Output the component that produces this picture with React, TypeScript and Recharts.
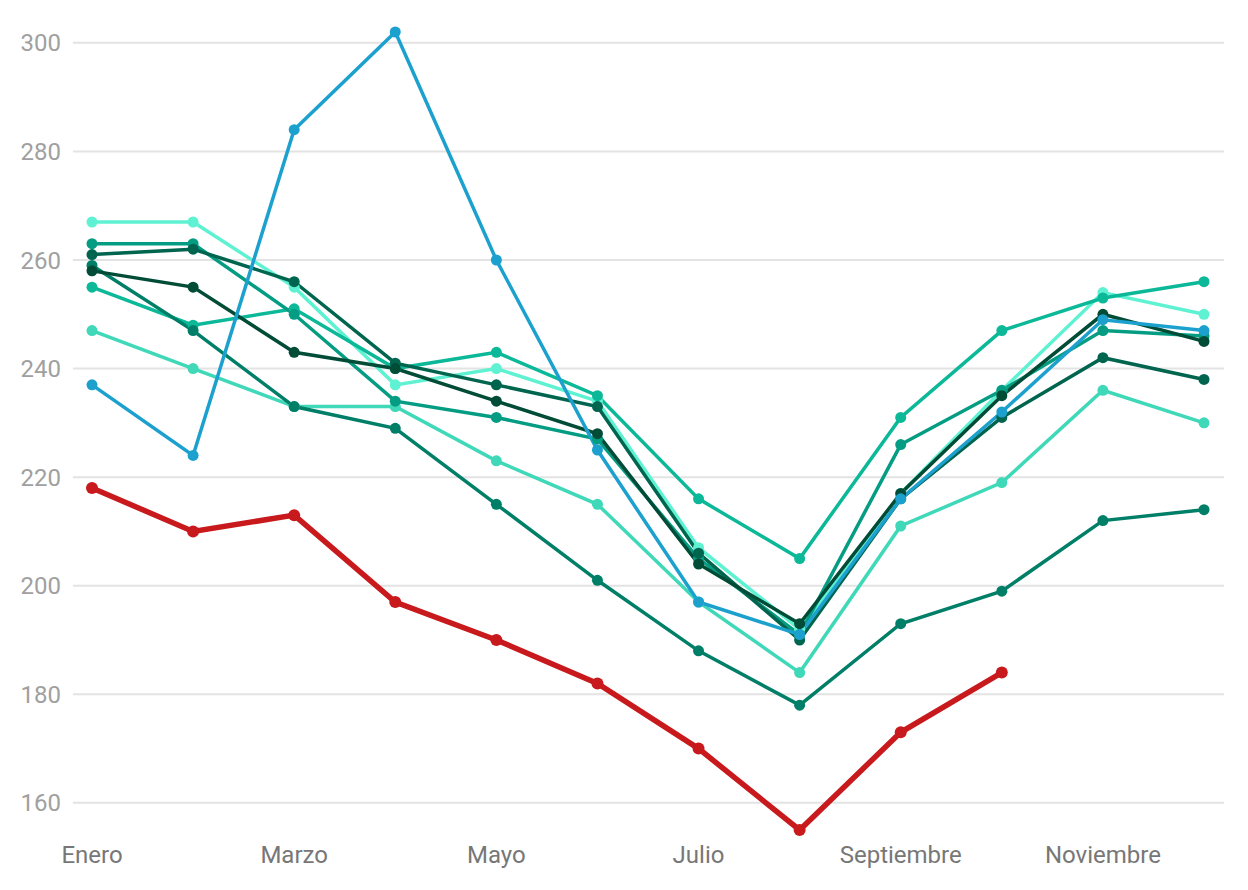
import { CartesianGrid, Line, LineChart, XAxis, YAxis } from "recharts";

const months = [
  "Enero",
  "Febrero",
  "Marzo",
  "Abril",
  "Mayo",
  "Junio",
  "Julio",
  "Agosto",
  "Septiembre",
  "Octubre",
  "Noviembre",
  "Diciembre",
];

const mint = [267, 267, 255, 237, 240, 234, 207, 192, 217, 236, 254, 250];
const brightTeal = [255, 248, 251, 240, 243, 235, 216, 205, 231, 247, 253, 256];
const midTeal = [263, 263, 250, 234, 231, 227, 205, 191, 226, 236, 247, 246];
const aqua = [247, 240, 233, 233, 223, 215, 197, 184, 211, 219, 236, 230];
const deepTeal = [259, 247, 233, 229, 215, 201, 188, 178, 193, 199, 212, 214];
const darkGreen = [261, 262, 256, 241, 237, 233, 206, 190, 216, 231, 242, 238];
const darkest = [258, 255, 243, 240, 234, 228, 204, 193, 217, 235, 250, 245];
const blue = [237, 224, 284, 302, 260, 225, 197, 191, 216, 232, 249, 247];
const red = [218, 210, 213, 197, 190, 182, 170, 155, 173, 184, null, null];

const yTicks = [160, 180, 200, 220, 240, 260, 280, 300];

const series = [
  { key: "mint", values: mint, color: "#5ef2d3" },
  { key: "aqua", values: aqua, color: "#3fd8b8" },
  { key: "brightTeal", values: brightTeal, color: "#0bb898" },
  { key: "midTeal", values: midTeal, color: "#049d83" },
  { key: "deepTeal", values: deepTeal, color: "#007f68" },
  { key: "darkGreen", values: darkGreen, color: "#00654f" },
  { key: "darkest", values: darkest, color: "#004c37" },
  { key: "blue", values: blue, color: "#1ca1cf" },
];

const data = months.map((m, i) => {
  const row: Record<string, string | number | null> = { month: m, red: red[i] };
  series.forEach((s) => {
    row[s.key] = s.values[i];
  });
  return row;
});

export default function App() {
  return (
    <div style={{ position: "absolute", left: 0, top: 0, fontFamily: "Roboto, sans-serif" }}>
      <LineChart width={1248} height={890} data={data} margin={{ top: 32, right: 24, left: 0, bottom: 10 }}>
        <CartesianGrid
          stroke="#e3e3e3"
          strokeWidth={2}
          vertical={false}
          horizontalValues={yTicks}
        />
        <XAxis
          dataKey="month"
          interval={1}
          padding={{ left: 19, right: 20 }}
          axisLine={false}
          tickLine={false}
          tickMargin={10}
          height={50}
          tick={{ fill: "#777777", fontSize: 24, fontFamily: "Roboto" }}
        />
        <YAxis
          domain={["dataMin", "dataMax"]}
          ticks={yTicks}
          width={73}
          axisLine={false}
          tickLine={false}
          tickMargin={6}
          tick={{ fill: "#a0a0a0", fontSize: 24, fontFamily: "Roboto" }}
        />
        {series.map((s) => (
          <Line
            key={s.key}
            type="linear"
            dataKey={s.key}
            stroke={s.color}
            strokeWidth={3.5}
            dot={{ r: 5.5, fill: s.color, stroke: s.color, strokeWidth: 0 }}
            activeDot={false}
            isAnimationActive={false}
          />
        ))}
        <Line
          type="linear"
          dataKey="red"
          stroke="#c8191d"
          strokeWidth={5.5}
          dot={{ r: 6, fill: "#c8191d", stroke: "#c8191d", strokeWidth: 0 }}
          activeDot={false}
          isAnimationActive={false}
        />
      </LineChart>
    </div>
  );
}
